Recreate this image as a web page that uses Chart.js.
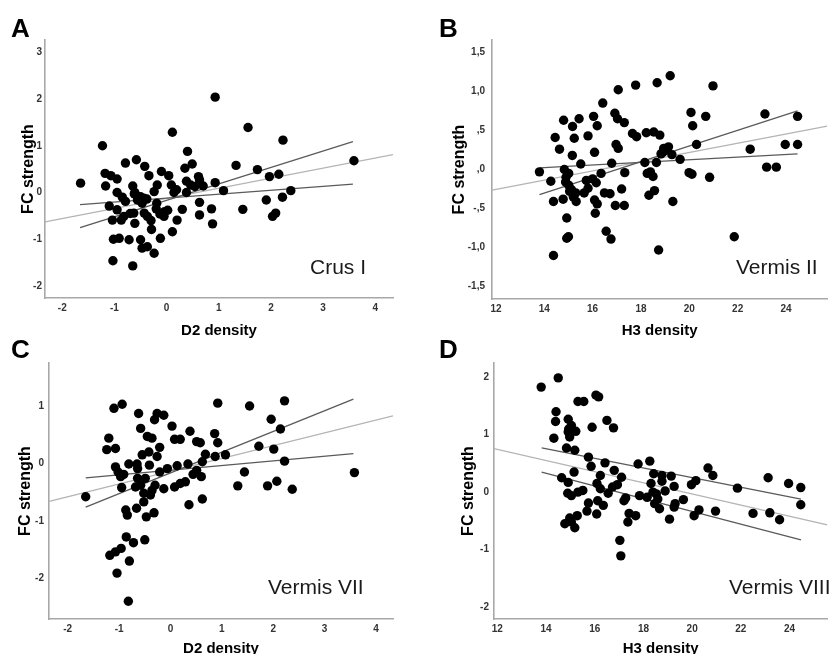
<!DOCTYPE html>
<html>
<head>
<meta charset="utf-8">
<script src="https://cdn.jsdelivr.net/npm/chart.js@4.4.1/dist/chart.umd.min.js"></script>
<style>
html,body{margin:0;padding:0;background:#fff;overflow:hidden;width:832px;height:654px;}
.pan{position:absolute;}
</style>
</head>
<body>
<div class="pan" style="left:0;top:0;width:416px;height:345px"><canvas id="cA"></canvas></div>
<div class="pan" style="left:416px;top:0;width:416px;height:345px"><canvas id="cB"></canvas></div>
<div class="pan" style="left:0;top:320px;width:416px;height:345px"><canvas id="cC"></canvas></div>
<div class="pan" style="left:416px;top:320px;width:416px;height:345px"><canvas id="cD"></canvas></div>
<script>
// ---------- Panel A: Crus I (D2 density vs FC strength) ----------
const xA = [-1.65,-1.23,-1.18,-1.17,-1.07,-0.95,-0.95,-1.1,-1.04,-0.95,-1.02,-0.91,-1.03,-0.79,-0.79,-0.87,-0.82,-0.72,-0.65,-0.65,-0.58,-0.61,-0.63,-0.61,-0.56,-0.5,-0.42,-0.34,-0.47,-0.43,-0.38,-0.5,-0.47,-0.37,-0.24,-0.37,-0.29,-0.24,-0.18,-0.19,-0.1,-0.13,-0.12,-0.04,-0.05,0.04,0.11,0.09,0.14,0.19,0.11,0.2,0.3,0.35,0.4,0.49,0.38,0.38,0.46,0.54,0.61,0.63,0.7,0.63,0.63,0.86,0.88,0.93,0.93,1.09,1.33,1.46,1.56,1.74,1.91,1.97,2.15,2.03,2.09,2.22,2.23,2.38,3.59,-0.62,-0.56,-0.44,0.02,-0.2,-0.85,-0.7,-0.3];
const yA = [0.2,1.0,0.41,0.14,0.36,0.29,0,-0.29,-0.59,-0.37,-1.0,-0.98,-1.46,0.63,-0.19,-0.59,-0.51,-1.01,-1.57,0.14,0.7,0,-0.44,-0.66,-0.16,-0.09,0.56,0.36,-0.23,-0.44,-0.14,-1.01,-1.19,-1.16,-1.3,-0.51,-0.79,0.02,0.16,-0.23,0.45,-0.46,-0.98,-0.41,-0.51,0.36,1.29,0.16,0,0.06,-0.84,-0.59,-0.36,0.52,0.88,0.61,0.24,0,0.16,0.13,0.34,0.27,0.14,-0.21,-0.48,-0.35,-0.67,2.04,0.21,0.04,0.58,-0.36,1.39,0.49,-0.16,0.34,0.39,-0.51,-0.44,-0.1,1.12,0.04,0.68,-0.03,-0.09,-0.12,-0.38,-0.35,-0.1,-0.45,-0.6];
const fitA = [[-2.33,-0.63],[4.34,0.81]];
const ciA1 = [[-1.66,-0.26],[3.57,0.18]];
const ciA2 = [[-1.66,-0.75],[3.57,1.09]];
const xTicksA = [-2,-1,0,1,2,3,4];
const yTicksA = [-2,-1,0,1,2,3];

// ---------- Panel B: Vermis II (H3 density vs FC strength) ----------
const xB = [13.8,14.27,14.38,14.38,14.45,14.63,14.8,14.78,14.83,14.93,14.93,15.0,14.88,15.01,15.01,15.13,15.17,15.24,15.16,15.2,15.32,15.44,15.51,15.65,15.74,15.81,15.81,16.04,16.08,16.15,16.08,16.19,16.11,16.19,16.35,16.42,16.49,16.56,16.72,16.76,16.79,16.92,16.97,17.06,17.06,17.03,16.94,17.2,17.31,17.33,17.31,17.65,17.78,17.82,18.16,18.26,18.22,18.33,18.39,18.5,18.53,18.56,18.64,18.67,18.73,18.78,18.83,18.94,19.14,19.21,19.28,19.32,19.62,19.99,20.07,20.14,20.11,20.3,20.68,20.84,20.98,21.86,22.52,23.13,23.2,23.6,23.97,24.48,24.48,14.9,15.05,15.3,16.0,18.9,19.0];
const yB = [-0.03,-0.15,-0.41,-1.1,0.41,0.26,0.63,-0.38,0,-0.62,-0.88,-0.86,-0.16,-0.05,-0.2,-0.26,0.55,0.4,0.18,-0.35,-0.41,0.65,0.07,-0.3,-0.14,0.43,-0.24,0.68,0.22,-0.17,-0.39,-0.44,-0.56,0.56,-0.05,0.85,-0.3,-0.79,-0.31,-0.89,0.08,0.72,0.32,0.27,1.02,0.65,-0.46,-0.25,0.6,-0.04,-0.46,0.46,1.08,0.42,0.09,-0.05,0.47,-0.33,-0.03,-0.09,0.48,-0.27,0.09,1.11,-1.03,0.44,0.2,0.27,0.29,1.2,0.19,-0.41,0.13,-0.04,0.73,0.56,-0.06,0.32,0.68,-0.1,1.07,-0.86,0.26,0.71,0.03,0.03,0.32,0.68,0.32,-0.1,-0.28,-0.3,-0.12,0.22,0.24];
const fitB = [[11.84,-0.265],[25.71,0.556]];
const ciB1 = [[13.8,0.02],[24.48,0.20]];
const ciB2 = [[13.8,-0.32],[24.48,0.75]];
const xTicksB = [12,14,16,18,20,22,24];
const yTicksB = [-1.5,-1.0,-0.5,0,0.5,1.0,1.5];
const yTickLabelsB = ['-1,5','-1,0','-,5',',0',',5','1,0','1,5'];

// ---------- Panel C: Vermis VII (D2 density vs FC strength) ----------
const xC = [-1.65,-1.24,-1.2,-1.1,-0.94,-1.07,-1.07,-1.02,-0.97,-0.91,-0.95,-0.81,-0.87,-0.84,-0.86,-0.72,-0.8,-0.96,-1.07,-1.18,-1.04,-0.82,-0.62,-0.58,-0.55,-0.65,-0.64,-0.66,-0.64,-0.68,-0.58,-0.49,-0.45,-0.42,-0.41,-0.52,-0.52,-0.5,-0.47,-0.36,-0.31,-0.26,-0.26,-0.21,-0.32,-0.36,-0.3,-0.39,-0.13,-0.21,-0.13,-0.06,0.03,0.08,0.13,0.08,0.19,0.19,0.29,0.34,0.38,0.36,0.44,0.51,0.58,0.51,0.6,0.62,0.62,0.68,0.86,0.87,0.92,0.92,1.07,1.31,1.44,1.54,1.72,1.89,1.96,2.01,2.07,2.14,2.22,2.22,2.37,3.58];
const yC = [-0.58,0.24,0.44,0.96,1.03,0.26,-0.06,-0.15,-0.23,-0.19,-0.42,-0.01,-0.81,-0.9,-1.28,-1.38,-1.7,-1.48,-1.54,-1.6,-1.91,-2.4,0.87,0.61,0.15,-0.01,-0.09,-0.78,-0.26,-0.41,-0.38,-0.26,0.47,0.2,-0.03,-0.52,-0.67,-1.33,-0.93,0.44,0.76,0.87,0.12,0.28,-0.86,-0.47,-0.38,-0.55,0.84,-0.15,-0.44,-0.09,0.65,0.42,-0.04,-0.41,0.42,-0.35,-0.32,-0.01,0.56,-0.72,-0.19,0.38,0.36,-0.12,-0.23,0.03,-0.62,0.16,0.52,0.12,0.36,1.05,0.15,-0.39,-0.15,1.0,0.3,-0.39,0.77,0.25,-0.31,0.6,1.09,0.04,-0.45,-0.16];
const fitC = [[-2.36,-0.66],[4.33,0.83]];
const ciC1 = [[-1.65,-0.25],[3.56,0.17]];
const ciC2 = [[-1.65,-0.76],[3.56,1.12]];
const xTicksC = [-2,-1,0,1,2,3,4];
const yTicksC = [-2,-1,0,1];

// ---------- Panel D: Vermis VIII (H3 density vs FC strength) ----------
const xD = [13.8,14.5,14.41,14.39,14.32,14.84,14.64,14.91,14.93,15.04,14.91,14.97,15.22,15.18,15.31,15.55,14.91,14.89,15.04,15.15,15.31,15.51,14.77,14.97,15.04,15.18,15.28,15.74,15.85,15.89,15.74,15.68,16.05,16.16,16.09,16.23,16.23,16.08,16.12,16.35,16.42,16.5,16.55,16.73,16.77,16.8,16.93,17.03,17.07,17.1,17.2,17.27,17.36,17.41,17.68,17.78,17.84,18.15,18.26,18.31,18.42,18.39,18.46,18.53,18.59,18.66,18.76,18.76,18.89,19.07,19.14,19.26,19.3,19.26,19.64,19.97,20.15,20.08,20.28,20.65,20.85,20.96,21.86,22.5,23.12,23.19,23.59,23.96,24.46,24.46];
const yD = [1.83,1.99,1.4,1.23,0.94,0.77,0.25,1.27,1.1,1.16,1.05,0.96,1.06,0.73,1.58,1.58,0.17,-0.02,-0.06,0.35,0,0.03,-0.55,-0.45,-0.52,-0.62,-0.41,0.61,0.45,1.13,-0.19,-0.33,1.69,1.66,0.15,0.06,0.29,-0.38,-0.15,-0.23,0.51,1.25,-0.02,0.09,1.12,0.38,0.13,-0.84,-1.11,0.26,-0.15,-0.1,-0.52,-0.37,-0.41,0.49,-0.06,-0.09,0.54,0.15,0.32,0,-0.2,-0.03,-0.12,-0.29,0.29,0.19,0.02,-0.47,0.28,0.1,-0.2,-0.26,-0.13,0.13,0.2,-0.41,-0.31,0.42,0.29,-0.33,0.07,-0.37,0.25,-0.36,-0.48,0.15,0.08,-0.22];
const fitD = [[11.86,0.76],[25.55,-0.57]];
const ciD1 = [[13.82,0.77],[24.47,-0.12]];
const ciD2 = [[13.82,0.35],[24.47,-0.83]];
const xTicksD = [12,14,16,18,20,22,24];
const yTicksD = [-2,-1,0,1,2];

const TICK_FONT = {family:'Liberation Sans, Arial, sans-serif', size:10, weight:'bold'};
const toPts = (xs, ys) => xs.map((x,i)=>({x:x, y:ys[i]}));
const seg = s => s.map(p=>({x:p[0], y:p[1]}));

const textPlugin = {
  id:'panelText',
  afterDraw(chart, args, opts){
    const ctx = chart.ctx;
    ctx.save();
    ctx.fillStyle = '#000';
    ctx.textBaseline = 'middle';
    ctx.textAlign = 'left';
    ctx.font = 'bold 26px "Liberation Sans", Arial, sans-serif';
    ctx.fillText(opts.letter, opts.lx, opts.ly);
    ctx.fillStyle = '#1a1a1a';
    ctx.font = '21px "Liberation Sans", Arial, sans-serif';
    ctx.fillText(opts.region, opts.rx, opts.ry);
    ctx.restore();
  }
};

function makeChart(id, cfg){
  const tickLabels = cfg.yLabels;
  const yTicks = cfg.yTicks;
  return new Chart(document.getElementById(id), {
    type:'scatter',
    data:{datasets:[
      {data: seg(cfg.fit), showLine:true, borderColor:'#b4b4b4', borderWidth:1.3, pointRadius:0, order:3},
      {data: seg(cfg.ci1), showLine:true, borderColor:'#5a5a5a', borderWidth:1.3, pointRadius:0, order:2},
      {data: seg(cfg.ci2), showLine:true, borderColor:'#5a5a5a', borderWidth:1.3, pointRadius:0, order:2},
      {data: toPts(cfg.xs, cfg.ys), backgroundColor:'#000', borderColor:'#000', borderWidth:0, pointRadius:4.7, pointHoverRadius:4.7, order:1}
    ]},
    options:{
      responsive:false, animation:false, devicePixelRatio:1,
      layout:{padding:{left:0, top:cfg.top, right:cfg.right, bottom:0}},
      plugins:{legend:{display:false}, tooltip:{enabled:false}, title:{display:false},
        panelText:{letter:cfg.letter, lx:cfg.lx, ly:cfg.ly, region:cfg.region, rx:cfg.rx, ry:cfg.ry}},
      scales:{
        x:{type:'linear', min:cfg.xmin, max:cfg.xmax,
          grid:{display:false, drawTicks:false},
          border:{display:true, color:'#a8a8a8', width:1.6},
          ticks:{font:TICK_FONT, color:'#333', padding:cfg.xpad, includeBounds:false, maxRotation:0},
          afterBuildTicks: s => { s.ticks = cfg.xTicks.map(v=>({value:v})); },
          afterFit: s => { s.height = cfg.xh; },
          title:{display:true, text:cfg.xTitle, color:'#000', font:{family:'Liberation Sans, Arial, sans-serif', size:15, weight:'bold'}, padding:{top:0, bottom:cfg.xtp}}
        },
        y:{type:'linear', min:cfg.ymin, max:cfg.ymax,
          grid:{display:false, drawTicks:false},
          border:{display:true, color:'#a8a8a8', width:1.6},
          ticks:{font:TICK_FONT, color:'#333', padding:cfg.ypad, includeBounds:false,
            callback: (v) => { const k = yTicks.indexOf(v); return tickLabels ? (k>=0 ? tickLabels[k] : '') : String(v); }},
          afterBuildTicks: s => { s.ticks = yTicks.map(v=>({value:v})); },
          afterFit: s => { s.width = cfg.yw; },
          title:{display:true, text:'FC strength', color:'#000', font:{family:'Liberation Sans, Arial, sans-serif', size:16, weight:'bold'}, padding:{top:cfg.ytp, bottom:0}}
        }
      }
    },
    plugins:[textPlugin]
  });
}

function sizeCanvas(id){ const c=document.getElementById(id); c.width=416; c.height=345; c.style.width='416px'; c.style.height='345px'; }
['cA','cB','cC','cD'].forEach(sizeCanvas);

makeChart('cA', {xs:xA, ys:yA, fit:fitA, ci1:ciA1, ci2:ciA2, xTicks:xTicksA, yTicks:yTicksA, yLabels:null,
  xmin:-2.332, xmax:4.339, ymin:-2.257, ymax:3.263, top:40, right:23, xh:47, yw:45, xpad:4, ypad:3, xtp:5, ytp:19,
  xTitle:'D2 density', letter:'A', lx:11, ly:30, region:'Crus I', rx:310, ry:268});

makeChart('cB', {xs:xB, ys:yB, fit:fitB, ci1:ciB1, ci2:ciB2, xTicks:xTicksB, yTicks:yTicksB, yLabels:yTickLabelsB,
  xmin:11.837, xmax:25.71, ymin:-1.657, ymax:1.657, top:40, right:0, xh:46, yw:76, xpad:4, ypad:7, xtp:5, ytp:34,
  xTitle:'H3 density', letter:'B', lx:23, ly:30, region:'Vermis II', rx:320, ry:268});

makeChart('cC', {xs:xC, ys:yC, fit:fitC, ci1:ciC1, ci2:ciC2, xTicks:xTicksC, yTicks:yTicksC, yLabels:null,
  xmin:-2.364, xmax:4.331, ymin:-2.709, ymax:1.749, top:43, right:23, xh:46, yw:49, xpad:4, ypad:5, xtp:7, ytp:16,
  xTitle:'D2 density', letter:'C', lx:11, ly:31, region:'Vermis VII', rx:268, ry:268});

makeChart('cD', {xs:xD, ys:yD, fit:fitD, ci1:ciD1, ci2:ciD2, xTicks:xTicksD, yTicks:yTicksD, yLabels:null,
  xmin:11.862, xmax:25.55, ymin:-2.21, ymax:2.25, top:43, right:0, xh:46, yw:78, xpad:4, ypad:5, xtp:7, ytp:43,
  xTitle:'H3 density', letter:'D', lx:23, ly:31, region:'Vermis VIII', rx:313, ry:268});
</script>
</body>
</html>
